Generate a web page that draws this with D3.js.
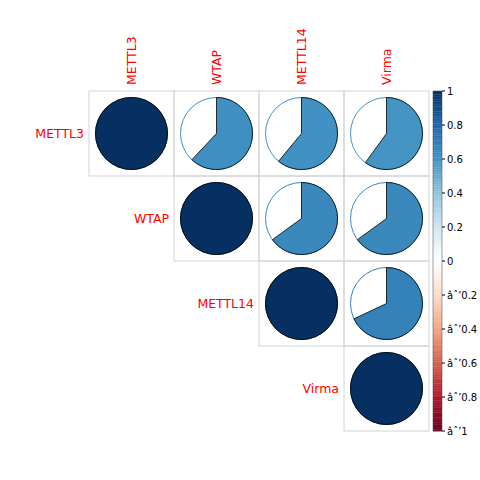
<!DOCTYPE html><html><head><script src="https://cdn.jsdelivr.net/npm/d3@7"></script>
<style>body{margin:0;background:#fff}</style></head><body><svg id="c" width="480" height="480"></svg>
<script>
const vars=["METTL3","WTAP","METTL14","Virma"];
const corr=[[1,0.62,0.61,0.60],[0.62,1,0.65,0.65],[0.61,0.65,1,0.68],[0.60,0.65,0.68,1]];
const ticks=[1,0.8,0.6,0.4,0.2,0,-0.2,-0.4,-0.6,-0.8,-1];
const pal=["#67001F","#B2182B","#D6604D","#F4A582","#FDDBC7","#FFFFFF","#D1E5F0","#92C5DE","#4393C3","#2166AC","#053061"];
const col=d3.scaleLinear().domain(d3.range(11).map(i=>-1+i*0.2)).range(pal);
const svg=d3.select("#c");
const x=d3.scaleBand().domain(vars).range([89,429]);
const y=d3.scaleBand().domain(vars).range([91,431]);
const bw=x.bandwidth(),r=36;
vars.forEach((a,i)=>vars.forEach((b,j)=>{
 if(j<i)return;
 svg.append("rect").attr("x",x(b)).attr("y",y(a)).attr("width",bw).attr("height",y.bandwidth()).attr("fill","none").attr("stroke","#d3d3d3");
 const v=corr[i][j],cx=x(b)+bw/2,cy=y(a)+y.bandwidth()/2,c=col(v);
 svg.append("circle").attr("cx",cx).attr("cy",cy).attr("r",r).attr("fill","white").attr("stroke",c);
 const arc=d3.arc().innerRadius(0).outerRadius(r).startAngle(0).endAngle(2*Math.PI*Math.abs(v)*(v<0?-1:1));
 svg.append("path").attr("d",arc()).attr("transform",`translate(${cx},${cy})`).attr("fill",c).attr("stroke","black").attr("stroke-width",0.8);
}));
vars.forEach((a,i)=>{
 svg.append("text").attr("x",x(a)-5).attr("y",y(a)+y.bandwidth()/2).attr("text-anchor","end").attr("dominant-baseline","central").attr("fill","red").attr("font-family","DejaVu Sans").attr("font-size",12.5).text(a);
 svg.append("text").attr("transform",`translate(${x(a)+bw/2},85) rotate(-90)`).attr("dominant-baseline","central").attr("fill","red").attr("font-family","DejaVu Sans").attr("font-size",12.5).text(a);
});
const cb=d3.scaleLinear().domain([1,-1]).range([91,431]);
const n=200,h=340/n;
d3.range(n).forEach(k=>{const v=1-(k+0.5)*2/n;svg.append("rect").attr("x",433).attr("y",91+k*h).attr("width",9).attr("height",h+0.3).attr("fill",col(v));});
svg.append("rect").attr("x",433).attr("y",91).attr("width",9).attr("height",340).attr("fill","none").attr("stroke","#444").attr("stroke-width",0.5);
ticks.forEach(t=>{
 svg.append("line").attr("x1",442).attr("x2",445).attr("y1",cb(t)).attr("y2",cb(t)).attr("stroke","black");
 svg.append("text").attr("x",447).attr("y",cb(t)).attr("dominant-baseline","central").attr("font-family","DejaVu Sans").attr("font-size",10).text(d3.format("")(t).replace("\u2212","-"));
});
</script></body></html>
